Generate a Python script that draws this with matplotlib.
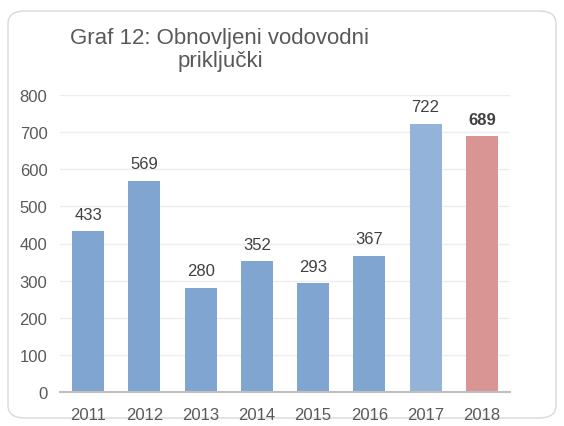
import matplotlib
matplotlib.use("Agg")
import matplotlib.pyplot as plt
from matplotlib.patches import FancyBboxPatch

years = ["2011", "2012", "2013", "2014", "2015", "2016", "2017", "2018"]
values = [433, 569, 280, 352, 293, 367, 722, 689]
colors = ["#7FA5D0"] * 6 + ["#93B3D9", "#D99594"]
title = "Graf 12: Obnovljeni vodovodni\npriključki"
yticks = [0, 100, 200, 300, 400, 500, 600, 700, 800]

plt.rcParams['font.family'] = ['Liberation Sans', 'DejaVu Sans']
W, H = 564, 427
fig = plt.figure(figsize=(W / 100, H / 100), dpi=100)

border = FancyBboxPatch((8 / W, 8 / H), (W - 16) / W, (H - 20) / H,
                        boxstyle="round,pad=0,rounding_size=0.03",
                        transform=fig.transFigure, facecolor="white",
                        edgecolor="#D9D9D9", linewidth=1.0, zorder=-5)
fig.patches.append(border)

ax = fig.add_axes([60 / W, (H - 393) / H, 450 / W, 297 / H])
ax.set_zorder(2)
ax.set_facecolor("none")
x = range(len(years))
ax.bar(x, values, width=0.57, color=colors, zorder=3)
for i, v in enumerate(values):
    ax.text(i, v + 26, str(v), ha="center", va="bottom", fontsize=12,
            color="#404040", fontweight="bold" if i == len(values) - 1 else "normal")

ax.set_xlim(-0.5, len(years) - 0.5)
ax.set_ylim(0, 800)
ax.set_yticks(yticks)
ax.set_yticklabels([str(t) for t in yticks])
ax.set_xticks(list(x))
ax.set_xticklabels(years)
ax.tick_params(axis="both", length=0, labelsize=12, colors="#595959")
ax.tick_params(axis="y", pad=9)
ax.tick_params(axis="x", pad=11)
ax.yaxis.grid(True, color="#EDEDED", linewidth=1, zorder=0)
for s in ["top", "right", "left"]:
    ax.spines[s].set_visible(False)
ax.spines["bottom"].set_color("#BFBFBF")
ax.spines["bottom"].set_linewidth(1.5)
ax.spines["bottom"].set_zorder(4)

fig.text(220 / W, 1 - 50 / H, title, ha="center", va="center", fontsize=16,
         color="#595959", linespacing=1.15)

fig.savefig("out.png", dpi=100)
